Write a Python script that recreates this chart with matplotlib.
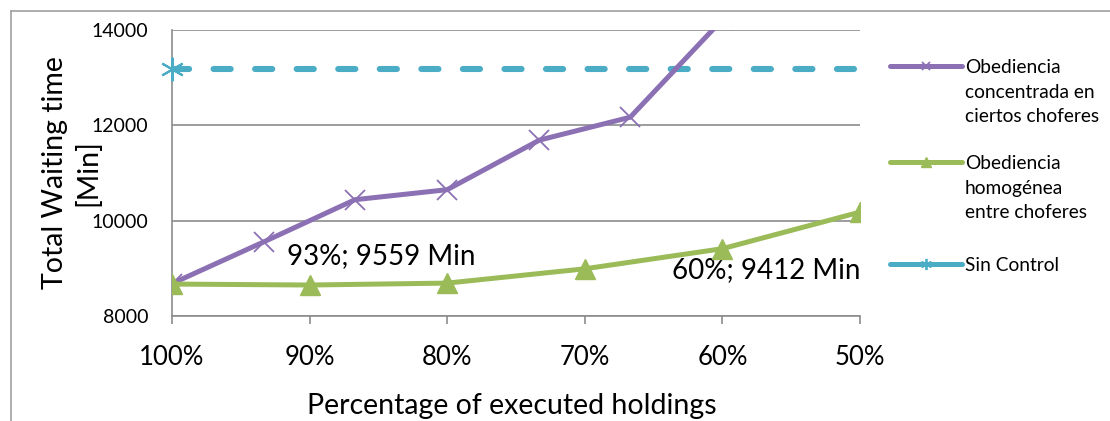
import matplotlib
matplotlib.use('Agg')
import matplotlib.pyplot as plt
from matplotlib.lines import Line2D

plt.rcParams['font.family'] = ['Lato', 'DejaVu Sans']

# x positions are percentage of executed holdings (axis runs 100% -> 50%)
categories = [100, 90, 80, 70, 60, 50]
cat_labels = ['100%', '90%', '80%', '70%', '60%', '50%']

conc_x = [100, 93.3, 86.7, 80, 73.3, 66.7, 60]
conc_y = [8680, 9559, 10440, 10650, 11690, 12170, 14220]

homo_x = [100, 90, 80, 70, 60, 50]
homo_y = [8670, 8650, 8690, 8990, 9412, 10180]

sin_x = [100, 50]
sin_y = [13190, 13190]

purple = '#8c70b4'
green = '#9bbb59'
cyan = '#4bacc6'
grid_c = '#8c8c8c'

fig = plt.figure(figsize=(11.1, 4.21), dpi=100)
ax = fig.add_axes([172/1110, 1-316/421, 688/1110, 286/421])

ax.plot(conc_x, conc_y, color=purple, lw=3.6, marker='x', ms=14, mew=1.3,
        solid_capstyle='round', zorder=3)
ax.plot(homo_x, homo_y, color=green, lw=3.6, marker='^', ms=15,
        solid_capstyle='round', zorder=4)
ax.plot(sin_x, sin_y, color=cyan, lw=4.4, dashes=(2.8, 4.0),
        dash_capstyle='round', zorder=2)
# Sin Control marker only at the first point, drawn unclipped
ax.plot(sin_x[:1], sin_y[:1], ls='none', color=cyan, marker=(6, 2, 0), ms=17,
        mew=1.5, clip_on=False, zorder=5)

ax.set_xlim(100, 50)
ax.set_ylim(8000, 14000)
ax.set_yticks([8000, 10000, 12000, 14000])
ax.set_xticks(categories)
ax.set_xticklabels(cat_labels)
ax.grid(axis='y', color=grid_c, lw=1.2)
ax.set_axisbelow(True)

for s in ['top', 'right']:
    ax.spines[s].set_visible(False)
for s in ['left', 'bottom']:
    ax.spines[s].set_color(grid_c)
    ax.spines[s].set_linewidth(1.2)

ax.tick_params(axis='x', colors=grid_c, labelcolor='black', length=6, width=1.2,
               labelsize=18.5, pad=15)
ax.tick_params(axis='y', length=0, labelsize=14, pad=17)

ax.set_ylabel('Total Waiting time\n[Min]', fontsize=20.5, linespacing=1.3)
ax.yaxis.set_label_coords(-0.103, 0.5)
ax.set_xlabel('Percentage of executed holdings', fontsize=20.5)
ax.xaxis.set_label_coords(0.494, -0.27)

ax.annotate('93%; 9559 Min', xy=(conc_x[1], conc_y[1]), xytext=(23, -14),
            textcoords='offset pixels', fontsize=20, va='center', ha='left')
ax.annotate('60%; 9412 Min', xy=(homo_x[4], homo_y[4]), xytext=(138, -21),
            textcoords='offset pixels', fontsize=20, va='center', ha='right')

# legend: one single-entry legend per series so the handle sits on the first text line
handles = [
    Line2D([], [], color=purple, lw=3.6, marker='x', ms=6, mew=1.3, solid_capstyle='round'),
    Line2D([], [], color=green, lw=3.6, marker='^', ms=7, solid_capstyle='round'),
    Line2D([], [], color=cyan, lw=3.6, marker=(6, 2, 0), ms=8, mew=1.3,
           solid_capstyle='round'),
]
labels = ['Obediencia\nconcentrada en\nciertos choferes',
          'Obediencia\nhomogénea\nentre choferes',
          'Sin Control']
rows = [67, 163, 265]
for h, lab, r in zip(handles, labels, rows):
    leg = fig.legend([h], [''], loc='center left', bbox_to_anchor=(890/1110, 1-r/421),
                     frameon=False, handlelength=3.85, handletextpad=0,
                     borderpad=0, borderaxespad=0, fontsize=13.5)
    fig.text(965/1110, 1-(r-8)/421, lab, fontsize=13.8, va='top', ha='left',
             linespacing=1.55)

# outer chart frame (only top and left edges show)
fig.add_artist(Line2D([11/1110, 1], [1-11/421, 1-11/421], transform=fig.transFigure,
                      color='#a0a0a0', lw=1.2))
fig.add_artist(Line2D([11/1110, 11/1110], [0, 1-11/421], transform=fig.transFigure,
                      color='#a0a0a0', lw=1.2))

plt.savefig('out.png', dpi=100)
